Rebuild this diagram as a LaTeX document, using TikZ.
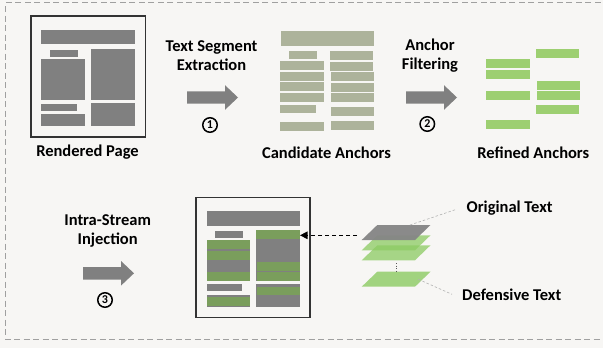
\documentclass[tikz,border=0pt]{standalone}
\usepackage{fontspec}
\setmainfont{Carlito}
\usetikzlibrary{arrows.meta}

\definecolor{bgc}{HTML}{F7F6F4}
\definecolor{pagegray}{HTML}{808080}
\definecolor{framegray}{HTML}{A0A0A0}
\definecolor{sage}{HTML}{ADB39B}
\definecolor{lightgreen}{HTML}{9DCF71}
\definecolor{darkgreen}{HTML}{7A9E5C}
\definecolor{layergreen}{HTML}{8CCB62}
\definecolor{layergray}{HTML}{858585}

\tikzset{
  label text/.style={font=\fontsize{16.5}{19.5}\selectfont\bfseries, align=center, inner sep=0pt, text=black},
  page frame/.style={draw=black!80, line width=1.6pt, fill=bgc, inner sep=0pt},
  circnum/.style={circle, draw=black, line width=1.5pt, minimum size=14.5pt, inner sep=0pt,
    font=\fontsize{12}{12}\selectfont\bfseries},
  block/.style={fill=pagegray},
  cand/.style={fill=sage},
  refined/.style={fill=lightgreen},
  injected/.style={fill=darkgreen},
  leader/.style={draw=black!30, line width=0.6pt, dash pattern=on 2.5pt off 2pt},
  pics/blockarrow/.style={code={
    \fill[pagegray] (0,-6.2) -- (38,-6.2) -- (38,-12.3) -- (51,0) -- (38,12.3) -- (38,6.2) -- (0,6.2) -- cycle;
  }},
}

\newcommand\layer[2]{\fill[#1] (377.3,#2) -- (430.5,#2) -- (415,{#2+15}) -- (361.7,{#2+15}) -- cycle;}

\begin{document}
\begin{tikzpicture}[x=1pt,y=-1pt]
  % canvas
  \fill[bgc] (0,0) rectangle (603,348);
  \useasboundingbox (0,0) rectangle (603,348);

  % dashed outer frame (open to the right)
  \draw[framegray, line width=1.1pt, dash pattern=on 6pt off 3.5pt]
    (610,2.5) -- (5.5,2.5) -- (5.5,339.5) -- (610,339.5);

  % ---------- rendered page ----------
  \node[page frame, minimum width=114.6pt, minimum height=121pt] (rendered) at (88,76.2) {};
  \fill[block] (41,30) rectangle (135,44.3);
  \fill[block] (50,50) rectangle (78,57);
  \fill[block] (41,59) rectangle (85,99.7);
  \fill[block] (91,49) rectangle (135,99.7);
  \fill[block] (41,104) rectangle (77,111);
  \fill[block] (41,114) rectangle (85,126);
  \fill[block] (91,103) rectangle (135,126);
  \node[label text] (lblrendered) at (87.5,152.5) {Rendered Page};

  % ---------- step 1 ----------
  \node[label text] (step1) at (211.5,55.5) {Text Segment\\Extraction};
  \pic at (187,97.5) {blockarrow};
  \node[circnum] (n1) at (210,125) {1};

  % ---------- candidate anchors ----------
  \fill[cand] (281,31) rectangle (374,45.7);
  \fill[cand] (289,51) rectangle (317,59);
  \fill[cand] (280,61) rectangle (324,70);
  \fill[cand] (280,72) rectangle (324,81);
  \fill[cand] (280,82) rectangle (324,91);
  \fill[cand] (280,93) rectangle (324,102);
  \fill[cand] (280,105) rectangle (316,113);
  \fill[cand] (280,122) rectangle (324,131);
  \fill[cand] (330,51) rectangle (373,60);
  \fill[cand] (330,62) rectangle (373,71);
  \fill[cand] (331,72) rectangle (374,81);
  \fill[cand] (331,83) rectangle (374,92);
  \fill[cand] (331,93) rectangle (374,102);
  \fill[cand] (331,107) rectangle (374,116);
  \fill[cand] (331,121) rectangle (374,130);
  \node[label text] (lblcand) at (326.5,152.5) {Candidate Anchors};

  % ---------- step 2 ----------
  \node[label text] (step2) at (430,55.8) {Anchor\\Filtering};
  \pic at (406,97.5) {blockarrow};
  \node[circnum] (n2) at (427.3,124) {2};

  % ---------- refined anchors ----------
  \fill[refined] (486,59.3) rectangle (530,67.7);
  \fill[refined] (486,70) rectangle (530,78.7);
  \fill[refined] (486,91) rectangle (530,99.7);
  \fill[refined] (486,120) rectangle (530,128.7);
  \fill[refined] (536,49) rectangle (579,57.7);
  \fill[refined] (537,81) rectangle (580,89.7);
  \fill[refined] (537,91) rectangle (580,99.7);
  \fill[refined] (536,105) rectangle (579,113.7);
  \node[label text] (lblrefined) at (533.3,152.3) {Refined Anchors};

  % ---------- step 3 ----------
  \node[label text] (step3) at (107.7,230.8) {Intra-Stream\\Injection};
  \pic at (83,273.3) {blockarrow};
  \node[circnum] (n3) at (105,300) {3};

  % ---------- page after injection ----------
  \node[page frame, minimum width=114.3pt, minimum height=120pt] (inject) at (252.85,257.3) {};
  \fill[block] (206.7,210.7) rectangle (300,225.7);
  \fill[block] (215,231) rectangle (243,237.7);
  \fill[block] (206.7,240) rectangle (250,281);
  \fill[block] (256,230) rectangle (300,281);
  \fill[block] (206.7,284) rectangle (242,291);
  \fill[block] (206.7,295) rectangle (250,306.7);
  \fill[block] (256,284) rectangle (300,306.7);
  \fill[injected] (206.7,240.3) rectangle (250,249);
  \fill[injected] (206.7,251) rectangle (250,260);
  \fill[injected] (206.7,272) rectangle (250,281);
  \fill[injected] (206.7,297) rectangle (250,305.7);
  \fill[injected] (256,230) rectangle (300,238.7);
  \fill[injected] (257.3,262.3) rectangle (300,270.7);
  \fill[injected] (257.3,272.3) rectangle (300,280.7);
  \fill[injected] (257.3,286.7) rectangle (300,295);

  % ---------- text layers ----------
  \layer{layergreen, opacity=0.8}{271.7}
  \layer{layergreen, opacity=0.75}{245.3}
  \layer{layergreen, opacity=0.75}{235.3}
  \layer{layergray, opacity=0.95}{225}
  \draw[black!65, line width=1pt, dash pattern=on 1.2pt off 1.3pt] (396.7,263) -- (396.7,272.5);

  \coordinate (stack) at (357,235.3);
  \coordinate (target) at (300,235.3);
  \draw[black, line width=1.2pt, dash pattern=on 4pt off 3pt,
        -{Triangle[length=7.5pt,width=7.5pt]}] (stack) -- (target);

  \node[label text, anchor=west] (orig) at (466.5,208.3) {Original Text};
  \node[label text, anchor=west] (def) at (462,294.3) {Defensive Text};
  \coordinate (origfoot) at (410,225);
  \coordinate (deffoot) at (418.3,279.3);
  \draw[leader] (origfoot) -- ([xshift=-10pt,yshift=-1pt]orig.west);
  \draw[leader] (deffoot) -- ([xshift=-10pt]def.west);
\end{tikzpicture}
\end{document}
